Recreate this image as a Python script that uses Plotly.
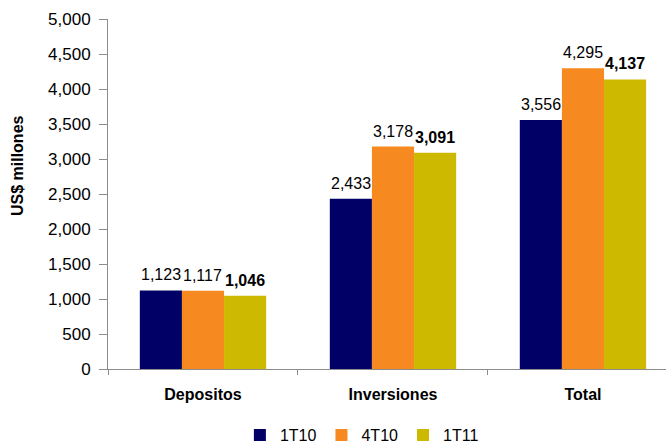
import plotly.graph_objects as go

categories = ["Depositos", "Inversiones", "Total"]
series_names = ["1T10", "4T10", "1T11"]
values_1t10 = [1123, 2433, 3556]
values_4t10 = [1117, 3178, 4295]
values_1t11 = [1046, 3091, 4137]
y_ticks = [0, 500, 1000, 1500, 2000, 2500, 3000, 3500, 4000, 4500, 5000]

colors = ["#000066", "#F6891F", "#CDB900"]
series_values = [values_1t10, values_4t10, values_1t11]
bold_series = [False, False, True]

BARGAP = 0.335
FONT = "Liberation Sans, Arial, sans-serif"

fig = go.Figure()
for name, vals, col in zip(series_names, series_values, colors):
    fig.add_trace(go.Bar(
        x=categories, y=vals, name=name,
        marker=dict(color=col, line=dict(width=0)),
    ))

# value labels above each bar
bar_w = (1 - BARGAP) / len(series_values)
annotations = []
for s, (vals, bold) in enumerate(zip(series_values, bold_series)):
    for i, v in enumerate(vals):
        txt = f"{v:,}"
        if bold:
            txt = f"<b>{txt}</b>"
        annotations.append(dict(
            x=i + (s - 1) * bar_w, y=v, xref="x", yref="y",
            text=txt, showarrow=False, yanchor="bottom", xanchor="center",
            yshift=5, font=dict(family=FONT, size=16, color="#000000"),
        ))

# y-axis title
annotations.append(dict(
    x=-0.163, y=0.58, xref="paper", yref="paper",
    text="<b>US$ millones</b>", textangle=-90, showarrow=False,
    xanchor="center", yanchor="middle",
    font=dict(family=FONT, size=16, color="#000000"),
))

fig.update_layout(
    width=666, height=443,
    margin=dict(l=108, r=0, t=19, b=74, autoexpand=False),
    paper_bgcolor="white", plot_bgcolor="white",
    barmode="group", bargap=BARGAP, bargroupgap=0,
    font=dict(family=FONT, size=14, color="#000000"),
    showlegend=True,
    legend=dict(
        orientation="h", x=0.455, xanchor="center", y=-0.189, yanchor="middle",
        font=dict(family=FONT, size=16, color="#000000"),
        itemwidth=30, traceorder="normal",
    ),
    annotations=annotations,
)

fig.update_xaxes(
    type="category", range=[-0.5, 2.437],
    showline=True, linecolor="#8C8C8C", linewidth=1,
    ticks="outside", tickson="boundaries", ticklen=5, tickcolor="#8C8C8C",
    tickfont=dict(family=FONT, size=16, color="#000000"),
    ticktext=[f"<b>{c}</b>" for c in categories], tickvals=categories,
    ticklabelstandoff=11,
    showgrid=False, zeroline=False,
)
fig.update_yaxes(
    range=[0, 5000], tickvals=y_ticks,
    ticktext=[f"{t:,}" for t in y_ticks],
    showline=True, linecolor="#8C8C8C", linewidth=1,
    ticks="outside", ticklen=8, tickcolor="#8C8C8C",
    tickfont=dict(family=FONT, size=17, color="#000000"),
    ticklabelstandoff=5,
    showgrid=False, zeroline=False,
)

fig.write_html("out.html")
